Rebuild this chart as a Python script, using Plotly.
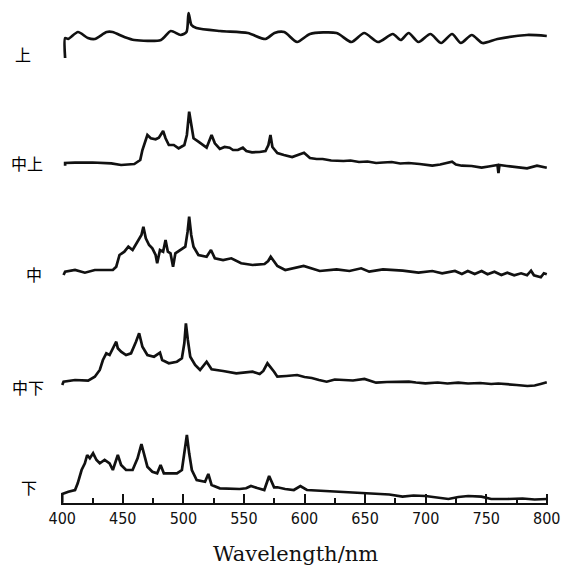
import plotly.graph_objects as go

# ---- data (wavelength in nm, relative intensity above each curve's baseline) ----
labels = ["上", "中上", "中", "中下", "下"]

wl_shang = [402.4, 402.4, 404.9, 413, 421.2, 426.9, 436.7, 441.5, 451.3, 459.5, 481.5, 489.6, 497.8,
            502.6, 504.3, 506.7, 510.8, 530.3, 553.2, 567.8, 575.2, 583.3, 593.9, 604.5, 626.5, 638.7,
            649.3, 660.7, 672.9, 679.4, 686, 694.1, 703.9, 712.8, 721.8, 729.1, 738.1, 747, 759.3,
            783.7, 800]
it_shang = [-18, 2, 1, 8, 2, 1, 8, 8, 3, 0, 0, 9, 5,
            8, 27, 15, 12, 9, 7, 1, 7, 8, -2, 6, 7, -2,
            7, -2, 6, 0, 7, -2, 6, -3, 6, -3, 5, -3, 1,
            5, 4]

wl_zs = [402.4, 402.4, 410.6, 425, 440.5, 448.6, 459.5, 464.4, 466.2, 470.3, 473.1, 477.1, 479.8, 483.3,
         485.3, 488, 492.1, 496.1, 500.8, 502.9, 504.8, 506.1, 508.4, 512.4, 519.2, 523.3, 526, 530.1,
         534, 538.2, 541, 545, 549.1, 552, 556.7, 562.9, 567.8, 570.2, 571.9, 573.5, 577.6, 583, 589.8,
         599.6, 604.5, 610, 615, 622, 632.2, 638, 645, 652, 659.1, 665, 672, 679, 686, 695, 700, 705.5,
         712, 721.8, 725, 729.9, 738, 746.2, 752, 759.3, 760.1, 760.9, 767, 773.1, 778, 783.7, 791.9,
         796, 800]
it_zs = [-2.7, 0, 0.3, 0.5, -0.3, -2, -1, 3, 13, 28, 24.7, 23.7, 25.3, 32,
         24.7, 18, 18, 14.7, 18, 28, 51.3, 39.7, 24.7, 21.3, 15.3, 28, 19.7, 14,
         16, 15.3, 13, 13, 15.3, 12, 10.7, 11, 12, 18, 28, 16, 10, 8, 6,
         10.3, 5, 4, 4, 2.5, 2, 2.5, 1, 1.5, 0, 0.5, 1, -0.5, 0, -1, -1.5, -2.7,
         -1.5, 1.3, -1.5, -2.7, -3, -4.7, -3.5, -2, -10, -2, -3, -3.7, -4.5, -5.3, -2.7,
         -4, -4.7]

wl_z = [401.1, 402.4, 410.6, 418.7, 426.9, 441.8, 444.6, 447.3, 451.3, 454.6, 458.1, 462.2, 465.4, 467,
        469, 471.7, 474.4, 477.1, 478.4, 480.7, 483.3, 485.3, 487.2, 489.4, 491.5, 493.4, 497.5, 501.6,
        503.5, 504.8, 506.5, 508.4, 512.4, 519.2, 522.8, 526, 532.8, 539.6, 547.7, 557.2, 567, 570,
        572.1, 577.6, 584.1, 599.3, 612.6, 626.5, 637.1, 646.8, 653.4, 664.8, 681.1, 694.1, 705.5,
        713.6, 724.2, 729.9, 734.8, 740.5, 746.2, 751.1, 756.8, 762.5, 767.4, 773.1, 778.8, 783.7,
        787, 789.4, 795.1, 797.6, 800]
it_z = [-5, -1.7, 0, -2.7, 0, 0, 3.3, 15, 18.3, 23.3, 20, 28.3, 35, 43.3,
        31.7, 25, 21.7, 15, 6.7, 20, 18.3, 30, 18.3, 16.7, 3.3, 16.7, 20, 23.3,
        38.3, 53.3, 35, 23.3, 15, 13.3, 20, 11.7, 10, 11.7, 6.7, 5, 6, 9,
        13.3, 4, 0, 4, -1, 0.7, -1, 1.7, -1.7, 0.7, -0.7, -2.7, -1,
        -3.3, -1, -4, -1, -4, -1, -4.3, -1.7, -5, -2.7, -5.3, -3.3, -5.3,
        -0.7, -5.3, -7.3, -3.3, -4.3]

wl_zx = [400, 401.1, 410.6, 421.4, 426.9, 431, 433.6, 436.4, 439.1, 441.8, 444.6, 445.9, 448.6, 452.7,
         456.8, 460.9, 463.5, 466.2, 470.3, 475.8, 480.7, 482.5, 488, 494.7, 498.8, 500.8, 502.1,
         503.7, 505.7, 509.7, 513.8, 519.2, 523.3, 532.8, 543.7, 557.2, 563, 566, 569.4, 574.9, 577.6,
         585, 593.9, 600, 606, 612, 618.3, 625, 631.9, 640, 649.5, 655, 659.1, 668, 678, 686.2, 692,
         699.8, 710, 718, 726.9, 735, 745, 754.1, 760, 767.6, 775, 784, 790, 794.9, 800]
it_zx = [-4, -0.7, 1, 0.3, 4.3, 11, 21, 27.7, 26, 32.7, 39.3, 32.7, 29.3, 26,
         27.7, 39.3, 47.7, 34.3, 26, 24.3, 28.3, 21, 17.7, 19.3, 22.7, 37.7, 57.7,
         41, 24.3, 16, 11, 19.3, 11.7, 10, 7.7, 9.3, 7, 10, 17.7, 9.3, 4.3,
         5, 6, 4, 3, 1, -0.7, 1.5, 1, 0.5, 2, 0, -1.7, -1, -0.5, -0.7, -1.5,
         -2.3, -1.5, -2.5, -1.7, -2.5, -2, -3, -2.5, -3, -4, -5, -4.5, -3, -1.3]

wl_x = [400, 400, 405.1, 410.6, 412.8, 416, 418.7, 420.6, 422.8, 425.5, 428.3, 431, 435, 439.1,
        441.8, 444.6, 445.9, 448.6, 452.7, 458.1, 462.2, 465.4, 467.6, 470.3, 474.4, 478.4, 481.2,
        483.9, 486.6, 494.7, 498.8, 501, 502.9, 504.8, 507, 511, 517.9, 520.6, 523.3, 530.1, 538, 546.4,
        551.8, 555.8, 561, 566.8, 570.8, 574.9, 577.6, 584, 591.2, 596.6, 602, 610, 618.3, 625, 631.9,
        645, 659.1, 670, 680.9, 690, 699.8, 710, 718.8, 727, 735.1, 746, 754.1, 767.6, 780, 790,
        797.5, 800]
it_x = [-12.7, -4, -1.7, 0, 6.7, 20, 26.7, 35, 31.7, 36.7, 30, 26.7, 30, 26.7,
        20, 31.7, 35, 25, 20, 20, 31.7, 46, 35, 23.3, 18.3, 16.7, 25,
        16.7, 16.7, 16.7, 20, 36.7, 55, 36.7, 20, 10, 8.3, 16, 5, 1.7, 1, 1,
        1.7, 4, 2, 0, 14, 2.7, 2.7, 1, 0, 4, 0, -0.5, -1, -1.5, -1.7,
        -2.5, -3.3, -4.5, -6.7, -5.5, -6, -7.5, -9, -7, -6, -6.7, -9, -9, -8.5, -9.5,
        -9, -9]

x_ticks = [400, 450, 500, 550, 600, 650, 700, 750, 800]
x_minor = [425, 475, 525, 575, 625, 675, 725, 775]

series = [(wl_shang, it_shang), (wl_zs, it_zs), (wl_z, it_z), (wl_zx, it_zx), (wl_x, it_x)]
offsets = [463, 340, 233, 122, 13]      # vertical stacking offset for each curve
label_dx = [-38.5, -34, -27.5, -33, -32.5]
label_dy = [-14, 0, -3.5, -6, 3]

fig = go.Figure()
for i, (wl, it) in enumerate(series):
    fig.add_trace(go.Scatter(
        x=wl, y=[v + offsets[i] for v in it], mode="lines",
        line=dict(color="#111111", width=2.7, shape="spline" if i == 0 else "linear",
                  smoothing=0.7 if i == 0 else None),
        showlegend=False, hoverinfo="skip"))
    fig.add_annotation(text=labels[i], xref="paper", x=0, xanchor="center", xshift=label_dx[i],
                       yref="y", y=offsets[i] + label_dy[i], yanchor="middle", showarrow=False,
                       font=dict(family="Noto Sans CJK SC", size=16, color="#000000"))

fig.add_annotation(text="Wavelength/nm", xref="paper", x=0.481, yref="paper", y=-0.1014,
                   yanchor="middle", xanchor="center", showarrow=False,
                   font=dict(family="DejaVu Serif", size=21, color="#111111"))

fig.update_layout(
    width=561, height=568, margin=dict(l=61, r=7, t=0, b=65),
    paper_bgcolor="white", plot_bgcolor="white",
    xaxis=dict(range=[399, 801], showgrid=False, zeroline=False, showline=True,
               linecolor="#111111", linewidth=2, ticks="inside", ticklen=9, tickwidth=1.5,
               tickcolor="#111111", tickvals=x_ticks, ticktext=[str(t) for t in x_ticks],
               ticklabeloverflow="allow",
               tickfont=dict(family="Liberation Sans Narrow, DejaVu Sans Condensed, sans-serif",
                             size=16, color="#111111"),
               minor=dict(tickvals=x_minor, ticks="inside", ticklen=5, tickwidth=1.5,
                          tickcolor="#111111", showgrid=False)),
    yaxis=dict(range=[0, 503], visible=False, showgrid=False, zeroline=False),
)

fig.write_html("out.html", config={"displayModeBar": False})

# remove the default page margin so the figure sits at the window origin
with open("out.html", "r", encoding="utf-8") as f:
    html = f.read()
html = html.replace("<body>", '<body style="margin:0;overflow:hidden">', 1)
with open("out.html", "w", encoding="utf-8") as f:
    f.write(html)
